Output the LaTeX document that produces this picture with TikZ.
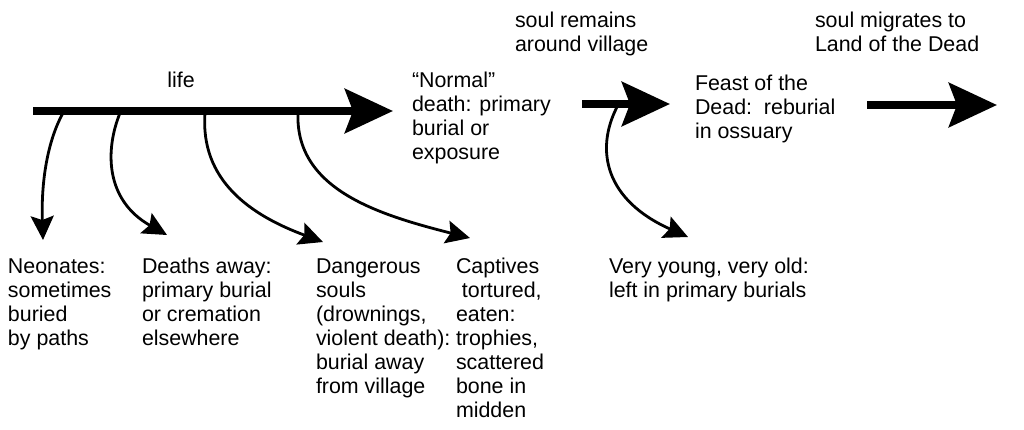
\documentclass[tikz,border=0pt]{standalone}
\usepackage{fontspec}
\setmainfont{Liberation Sans}
\usetikzlibrary{arrows.meta}

% multi-line label whose baseline is that of its first line
\newcommand{\stack}[1]{\begin{tabular}[t]{@{}l@{}}#1\end{tabular}}

\tikzset{
  label text/.style={anchor=base west, inner sep=0pt, outer sep=0pt,
    font=\fontsize{21.4}{24}\selectfont},
  stage arrow/.style={line width=8pt,
    -{Stealth[length=48pt, width=44pt, inset=8pt]}},
  branch arrow/.style={line width=2.8pt,
    -{Stealth[length=24pt, width=23pt, inset=4pt]}},
}

\begin{document}
\begin{tikzpicture}[x=1pt, y=-1pt]
  \useasboundingbox (0,0) rectangle (1024,429);

  % stages along the top
  \node[label text, anchor=base] (life) at (181,87) {life};
  \node[label text] (normal) at (412,87)
    {\stack{“Normal”\\death: primary\\burial or\\exposure}};
  \node[label text] (remains) at (515,27)
    {\stack{soul remains\\around village}};
  \node[label text] (feast) at (695,90)
    {\stack{Feast of the\\Dead:\ \ reburial\\in ossuary}};
  \node[label text] (migrates) at (815,27)
    {\stack{soul migrates to\\Land of the Dead}};

  % alternative fates along the bottom
  \node[label text] (neonates) at (8,273)
    {\stack{Neonates:\\sometimes\\buried\\by paths}};
  \node[label text] (away) at (142,273)
    {\stack{Deaths away:\\primary burial\\or cremation\\elsewhere}};
  \node[label text] (dangerous) at (316,273)
    {\stack{Dangerous\\souls\\(drownings,\\violent death):\\burial away\\from village}};
  \node[label text] (captives) at (456,273)
    {\stack{Captives\\\ tortured,\\eaten:\\trophies,\\scattered\\bone in\\midden}};
  \node[label text] (young) at (609,273)
    {\stack{Very young, very old:\\left in primary burials}};

  % main time line
  \coordinate (lifeS) at (33,111);
  \coordinate (lifeE) at (393,111);
  \coordinate (soulS) at (582,104);
  \coordinate (soulE) at (670,104);
  \coordinate (deadS) at (867,105);
  \coordinate (deadE) at (997,105);
  \draw[stage arrow] (lifeS) -- (lifeE);
  \draw[stage arrow] (soulS) -- (soulE);
  \draw[stage arrow] (deadS) -- (deadE);

  % branch points and arrow tips
  \coordinate (b1) at (63,113);
  \coordinate (b2) at (120,113);
  \coordinate (b3) at (205,113);
  \coordinate (b4) at (298,113);
  \coordinate (b5) at (617,107);
  \coordinate (t1) at (43,240);
  \coordinate (t2) at (167,235);
  \coordinate (t3) at (323,242);
  \coordinate (t4) at (470,238);
  \coordinate (t5) at (688,237);

  \draw[branch arrow] (b1) .. controls (48,140) and (41,180) .. (t1);
  \draw[branch arrow] (b2) .. controls (105,150) and (105,200) .. (t2);
  \draw[branch arrow] (b3) .. controls (200,180) and (250,215) .. (t3);
  \draw[branch arrow] (b4) .. controls (295,190) and (380,215) .. (t4);
  \draw[branch arrow] (b5) .. controls (595,150) and (605,200) .. (t5);
\end{tikzpicture}
\end{document}
